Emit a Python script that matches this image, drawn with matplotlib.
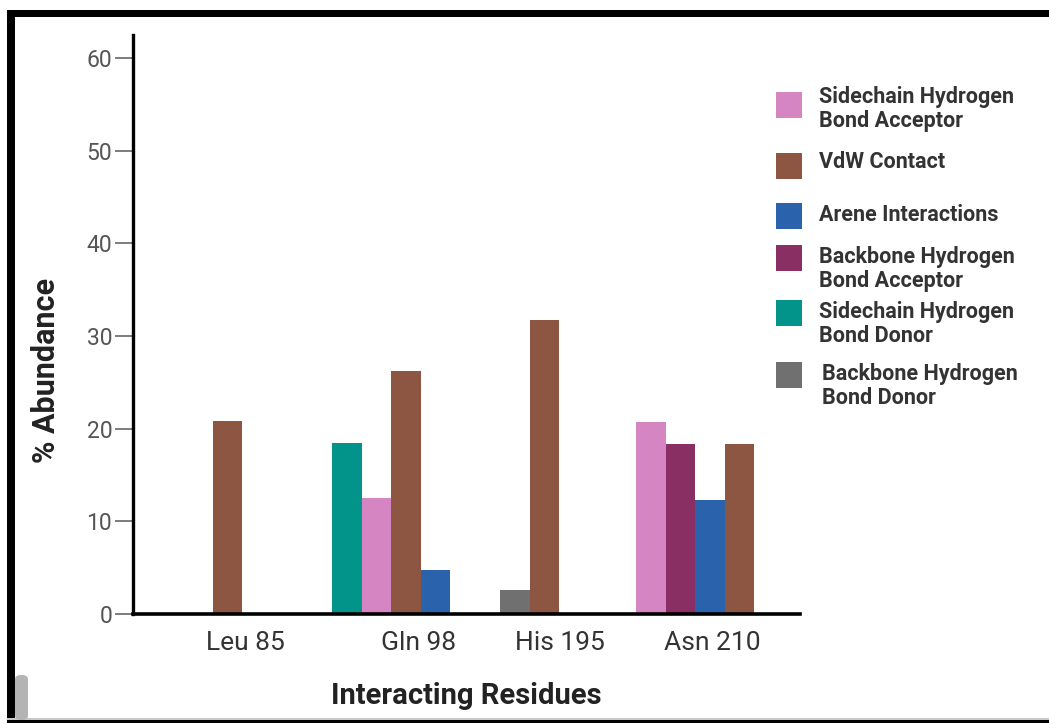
import matplotlib.pyplot as plt
from matplotlib.patches import Rectangle, FancyBboxPatch

plt.rcParams['font.family'] = ['Roboto', 'DejaVu Sans']

# data (% abundance)
residues = ["Leu 85", "Gln 98", "His 195", "Asn 210"]
leu85_types = ["VdW Contact"]
leu85_vals = [20.8]
gln98_types = ["Sidechain Hydrogen Bond Donor", "Sidechain Hydrogen Bond Acceptor",
               "VdW Contact", "Arene Interactions"]
gln98_vals = [18.5, 12.5, 26.2, 4.8]
his195_types = ["Backbone Hydrogen Bond Donor", "VdW Contact"]
his195_vals = [2.6, 31.7]
asn210_types = ["Sidechain Hydrogen Bond Acceptor", "Backbone Hydrogen Bond Acceptor",
                "Arene Interactions", "VdW Contact"]
asn210_vals = [20.7, 18.4, 12.3, 18.4]

legend_order = ["Sidechain Hydrogen Bond Acceptor", "VdW Contact", "Arene Interactions",
                "Backbone Hydrogen Bond Acceptor", "Sidechain Hydrogen Bond Donor",
                "Backbone Hydrogen Bond Donor"]
legend_labels = ["Sidechain Hydrogen\nBond Acceptor", "VdW Contact", "Arene Interactions",
                 "Backbone Hydrogen\nBond Acceptor", "Sidechain Hydrogen\nBond Donor",
                 "Backbone Hydrogen\nBond Donor"]

colors = {
    "Sidechain Hydrogen Bond Acceptor": "#d485c2",
    "VdW Contact": "#8c5642",
    "Arene Interactions": "#2a63ac",
    "Backbone Hydrogen Bond Acceptor": "#8a2f63",
    "Sidechain Hydrogen Bond Donor": "#02948a",
    "Backbone Hydrogen Bond Donor": "#707070",
}

groups = [(leu85_types, leu85_vals), (gln98_types, gln98_vals),
          (his195_types, his195_vals), (asn210_types, asn210_vals)]

# layout (in bar-width units)
group_start = [2.71, 6.75, 12.44, 17.05]
label_pos = [3.8, 9.66, 14.47, 19.63]

W, H = 1049, 723
fig = plt.figure(figsize=(W / 100, H / 100), dpi=100)
ax = fig.add_axes([133 / W, 1 - 614 / H, (800 - 133) / W, (614 - 35) / H])

for (types, vals), x0 in zip(groups, group_start):
    for i, (t, v) in enumerate(zip(types, vals)):
        ax.bar(x0 + i, v, width=1.0, align='edge', color=colors[t], linewidth=0)

ax.set_xlim(0, 22.6)
ax.set_ylim(0, 62.5)
ax.set_yticks([0, 10, 20, 30, 40, 50, 60])
ax.set_xticks(label_pos)
ax.set_xticklabels(residues, fontsize=19, color="#333333")
ax.tick_params(axis='x', length=0, pad=12)
ax.tick_params(axis='y', length=13, width=1.2, color="#666666", labelcolor="#555555",
               labelsize=16.5, pad=2)

for s in ["top", "right"]:
    ax.spines[s].set_visible(False)
ax.spines["left"].set_linewidth(2.4)
ax.spines["bottom"].set_linewidth(2.6)

ax.set_xlabel("Interacting Residues", fontsize=21, fontweight='bold', color="#222222", labelpad=20)
ax.set_ylabel("% Abundance", fontsize=22, fontweight='bold', color="#222222")
ax.yaxis.set_label_coords(-72 / (800 - 133), 0.421)

# legend drawn by hand to match the spacing
patch_y = [105, 166, 216, 258, 313, 375]
text_y = [109, 162, 215, 269, 324, 386]
text_x = [819, 819, 819, 819, 819, 822]
for name, lab, py, ty, tx in zip(legend_order, legend_labels, patch_y, text_y, text_x):
    fig.add_artist(Rectangle((776 / W, 1 - (py + 13) / H), 26 / W, 26 / H,
                             transform=fig.transFigure, color=colors[name], lw=0))
    fig.text(tx / W, 1 - ty / H, lab, fontsize=15.5, fontweight='bold', color="#333333",
             va='center', ha='left', linespacing=1.15)

# screenshot frame
fig.add_artist(Rectangle((7 / W, 1 - 17 / H), 1, 7 / H, transform=fig.transFigure, color="black", lw=0))
fig.add_artist(Rectangle((7 / W, 0), 8 / W, 1 - 10 / H, transform=fig.transFigure, color="black", lw=0))
fig.add_artist(Rectangle((7 / W, 0), 1, 3 / H, transform=fig.transFigure, color="black", lw=0))
fig.add_artist(Rectangle((7 / W, 3 / H), 1, 2 / H, transform=fig.transFigure, color="#c8c8c8", lw=0))
fig.add_artist(FancyBboxPatch((15 / W, 3 / H), 13 / W, 45 / H, boxstyle="round,pad=0,rounding_size=0.006",
                              transform=fig.transFigure, color="#b4b4b4", lw=0))

fig.savefig("out.png", dpi=100)
